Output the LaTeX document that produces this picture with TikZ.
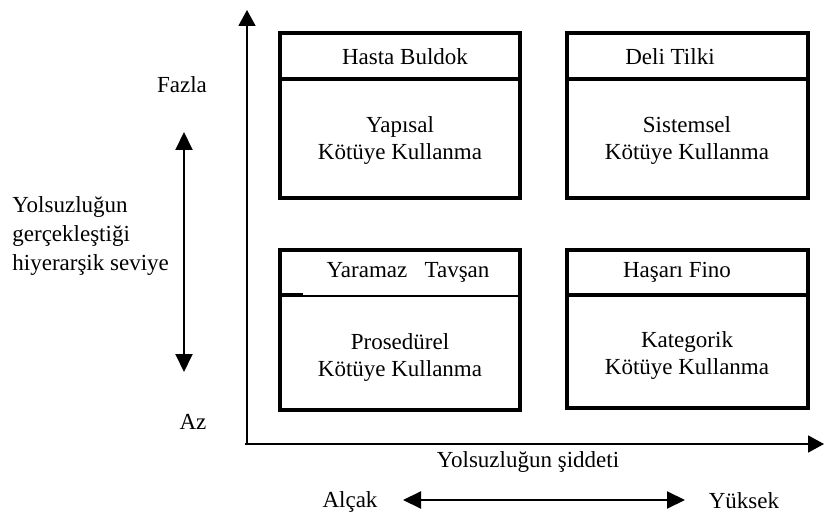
\documentclass[tikz,border=0pt]{standalone}
\usepackage{fontspec}
\setmainfont{Liberation Serif}
\usetikzlibrary{arrows.meta}
\tikzset{
  yazi/.style={font=\fontsize{11.5}{13.5}\selectfont, inner sep=0pt, align=center},
  kutu/.style={line width=2pt},
  ayrac/.style={line width=1.6pt},
  eksen/.style={line width=0.9pt, -{Triangle[length=8pt,width=8.5pt]}},
  ciftok/.style={line width=1pt, {Triangle[length=9pt,width=8.5pt]}-{Triangle[length=9pt,width=8.5pt]}}
}
\begin{document}
\begin{tikzpicture}[x=0.5pt,y=-0.5pt]
\useasboundingbox (0,0) rectangle (824,518);

\coordinate (o) at (247,444);
\coordinate (ytepe) at (247,10);
\coordinate (xsol) at (245,444);
\coordinate (xuc) at (824,444);
\draw[eksen] (o)--(ytepe);
\draw[eksen] (xsol)--(xuc);

\draw[kutu] (280,33) rectangle (520,198);
\draw[ayrac] (280,79)--(520,79);
\draw[kutu] (567,33) rectangle (808,198);
\draw[ayrac] (567,79)--(808,79);
\draw[kutu] (280,250) rectangle (520,410);
\draw[line width=0.9pt] (280,296)--(520,296);
\draw[ayrac] (280,295)--(303,295);
\draw[kutu] (567,250) rectangle (808,408);
\draw[ayrac] (567,295)--(808,295);

\node[yazi] (hb) at (405,57) {Hasta Buldok};
\node[yazi] (yap) at (400,141) {Yapısal\\Kötüye Kullanma};
\node[yazi] (dt) at (670,57) {Deli Tilki};
\node[yazi] (sis) at (687,141) {Sistemsel\\Kötüye Kullanma};
\node[yazi] (yt) at (408,272) {Yaramaz\ \ \ Tavşan};
\node[yazi] (pro) at (400,358) {Prosedürel\\Kötüye Kullanma};
\node[yazi] (hf) at (677,272) {Haşarı Fino};
\node[yazi] (kat) at (687,356) {Kategorik\\Kötüye Kullanma};

\node[yazi] (fazla) at (182,85) {Fazla};
\node[yazi] (az) at (193,422) {Az};
\node[yazi, align=left, anchor=west, font=\fontsize{11.5}{14.3}\selectfont] (seviye) at (12,236) {Yolsuzluğun\\gerçekleştiği\\hiyerarşik seviye};
\coordinate (dust) at (184,132);
\coordinate (dalt) at (184,372);
\draw[ciftok] (dust)--(dalt);

\node[yazi] (siddet) at (528,462) {Yolsuzluğun şiddeti};
\node[yazi] (alcak) at (350,502) {Alçak};
\node[yazi] (yuksek) at (744,501) {Yüksek};
\coordinate (osol) at (403,500);
\coordinate (osag) at (685,500);
\draw[ciftok] (osol)--(osag);
\end{tikzpicture}
\end{document}
